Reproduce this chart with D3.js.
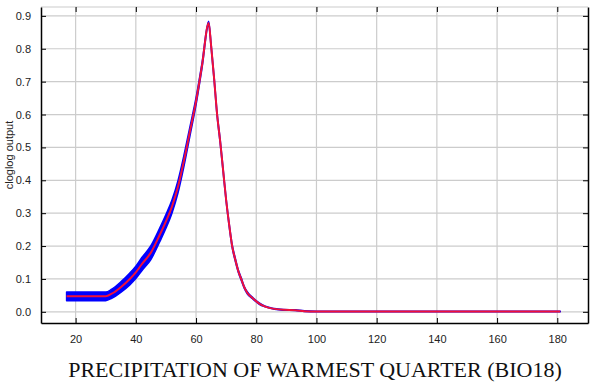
<!DOCTYPE html>
<html lang="en">
  <head>
    <meta charset="UTF-8" />
    <title>Response curve BIO18</title>
    <script src="https://d3js.org/d3.v7.min.js"></script>
    <style>
      body { margin: 0; background: #fff; }
      .tick-label { font-family: 'Liberation Sans', Arial, sans-serif; font-size: 11px; fill: #222; }
    </style>
  </head>
  <body>
    <div id="chart"></div>
    <script>
      // mean response (red) and standard deviation (blue band)
      const precip = [17, 30, 32, 35, 38, 40, 42, 45, 48, 50, 52, 54, 56, 58, 60, 62, 64.2, 65, 66, 67, 68, 69, 70, 71, 72, 73, 74, 75, 76, 77, 79, 81, 83, 86, 89, 93, 96, 100, 181];
      const meanOut = [0.047, 0.047, 0.055, 0.075, 0.1, 0.12, 0.145, 0.18, 0.235, 0.275, 0.32, 0.38, 0.46, 0.55, 0.64, 0.75, 0.878, 0.81, 0.71, 0.6, 0.52, 0.43, 0.34, 0.265, 0.2, 0.16, 0.125, 0.1, 0.075, 0.058, 0.04, 0.025, 0.016, 0.009, 0.006, 0.005, 0.002, 0.001, 0.001];
      const sdOut = [0.013, 0.013, 0.014, 0.016, 0.018, 0.019, 0.02, 0.021, 0.021, 0.021, 0.02, 0.019, 0.017, 0.014, 0.011, 0.008, 0.006, 0.006, 0.006, 0.006, 0.006, 0.006, 0.005, 0.005, 0.005, 0.005, 0.004, 0.004, 0.003, 0.003, 0.002, 0.002, 0.001, 0.001, 0.001, 0.001, 0.001, 0.001, 0.001];
      const xTicks = [20, 40, 60, 80, 100, 120, 140, 160, 180];
      const yTicks = [0, 0.1, 0.2, 0.3, 0.4, 0.5, 0.6, 0.7, 0.8, 0.9];

      const W = 604, H = 388;
      const margin = { top: 7, right: 16, bottom: 65, left: 41 };
      const width = W - margin.left - margin.right;
      const height = H - margin.top - margin.bottom;

      const svg = d3.select('#chart').append('svg')
        .attr('width', W).attr('height', H);
      const g = svg.append('g')
        .attr('transform', 'translate(' + margin.left + ',' + margin.top + ')');

      const x = d3.scaleLinear().domain([8.5, 190.2]).range([0, width]);
      const y = d3.scaleLinear().domain([-0.034, 0.927]).range([height, 0]);

      // grid
      g.append('g').selectAll('line').data(xTicks).enter().append('line')
        .attr('x1', d => x(d)).attr('x2', d => x(d))
        .attr('y1', 0).attr('y2', height)
        .attr('stroke', '#cccccc').attr('stroke-width', 1.2);
      g.append('g').selectAll('line').data(yTicks).enter().append('line')
        .attr('x1', 0).attr('x2', width)
        .attr('y1', d => y(d)).attr('y2', d => y(d))
        .attr('stroke', '#cccccc').attr('stroke-width', 1.2);

      // top border (light)
      g.append('line').attr('x1', 0).attr('x2', width).attr('y1', 0).attr('y2', 0)
        .attr('stroke', '#cccccc').attr('stroke-width', 1.2);

      const data = precip.map((p, i) => ({ p: p, m: meanOut[i], s: sdOut[i] }));

      const band = d3.area()
        .x(d => x(d.p))
        .y0(d => y(d.m - d.s))
        .y1(d => y(d.m + d.s))
        .curve(d3.curveMonotoneX);
      g.append('path').datum(data)
        .attr('d', band)
        .attr('fill', '#0000ff')
        .attr('stroke', '#0000ff')
        .attr('stroke-width', 1.5)
        .attr('stroke-linejoin', 'round');

      const line = d3.line().x(d => x(d.p)).y(d => y(d.m)).curve(d3.curveMonotoneX);
      g.append('path').datum(data)
        .attr('d', line)
        .attr('fill', 'none')
        .attr('stroke', '#f0103a')
        .attr('stroke-width', 2);

      // axes with inward ticks
      g.append('g').attr('transform', 'translate(0,' + height + ')')
        .call(d3.axisBottom(x).tickValues(xTicks).tickSizeInner(-5).tickSizeOuter(0).tickPadding(12))
        .call(a => a.select('.domain').attr('stroke', '#000').attr('stroke-width', 1.5))
        .call(a => a.selectAll('text').attr('class', 'tick-label').attr('fill', null));
      g.append('g')
        .call(d3.axisLeft(y).tickValues(yTicks).tickFormat(d3.format('.1f')).tickSizeInner(-5).tickSizeOuter(0).tickPadding(10))
        .call(a => a.select('.domain').attr('stroke', '#000').attr('stroke-width', 1.5))
        .call(a => a.selectAll('text').attr('class', 'tick-label').attr('fill', null));
      g.append('g').attr('transform', 'translate(' + width + ',0)')
        .call(d3.axisRight(y).tickValues(yTicks).tickSizeInner(-5).tickSizeOuter(0).tickFormat(''))
        .call(a => a.select('.domain').attr('stroke', '#000').attr('stroke-width', 1.5));
      g.append('g')
        .call(d3.axisTop(x).tickValues(xTicks).tickSizeInner(-5).tickSizeOuter(0).tickFormat(''))
        .call(a => a.select('.domain').remove());

      // labels
      svg.append('text')
        .attr('transform', 'translate(13,155) rotate(-90)')
        .attr('text-anchor', 'middle')
        .style('font-family', "'Liberation Sans', Arial, sans-serif")
        .style('font-size', '11px')
        .attr('fill', '#222')
        .text('cloglog output');

      svg.append('text')
        .attr('x', 315).attr('y', 377)
        .attr('text-anchor', 'middle')
        .style('font-family', "'Liberation Serif', 'Times New Roman', serif")
        .style('font-size', '22px')
        .attr('fill', '#111')
        .text('PRECIPITATION OF WARMEST QUARTER (BIO18)');
    </script>
  </body>
</html>
